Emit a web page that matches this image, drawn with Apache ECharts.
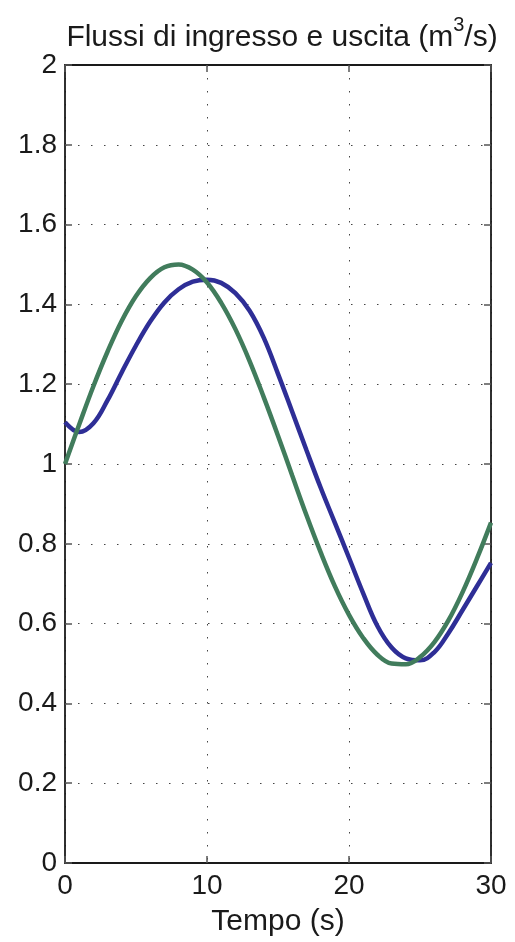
<!DOCTYPE html>
<html>
<head>
<meta charset="utf-8">
<script src="https://cdn.jsdelivr.net/npm/echarts@6/dist/echarts.min.js"></script>
<style>
  html, body { margin: 0; padding: 0; background: #fff; }
  #chart { width: 515px; height: 942px; }
</style>
</head>
<body>
<div id="chart"></div>
<script>
// tempi (s) e valori
const tempo = [0, 1, 2, 3, 4, 5, 6, 7, 8, 9, 10, 11, 12, 13, 14, 15,
  16, 17, 18, 19, 20, 21, 22, 23, 24, 25, 26, 27, 28, 29, 30]
// portata di uscita (blu)
const uscita = [1.105, 1.080, 1.102, 1.160, 1.230, 1.297, 1.357, 1.405, 1.438, 1.457,
  1.462, 1.454, 1.428, 1.384, 1.316, 1.226, 1.131, 1.035, 0.941, 0.853, 0.765, 0.676,
  0.594, 0.540, 0.513, 0.508, 0.528, 0.576, 0.634, 0.693, 0.752]
// portata di ingresso (verde)
const ingresso = [1.000, 1.099, 1.195, 1.282, 1.359, 1.421, 1.466, 1.493, 1.500, 1.487,
  1.455, 1.404, 1.338, 1.258, 1.167, 1.071, 0.971, 0.872, 0.779, 0.694, 0.622, 0.564,
  0.522, 0.500, 0.498, 0.516, 0.553, 0.608, 0.679, 0.762, 0.853]
const xTicks = [0, 10, 20, 30]
const yTicks = [0, 0.2, 0.4, 0.6, 0.8, 1, 1.2, 1.4, 1.6, 1.8, 2]

const font = 'Liberation Sans, Arial, Helvetica, sans-serif'
const ink = '#1a1a1a'
const gridDots = { color: '#444', width: 1, type: [1.5, 11.5] }
const axisBlack = { color: ink, width: 1.8 }
const tickStyle = { color: '#555', width: 1.5 }
// tacche verso l'interno, come in MATLAB
const ticks = { show: true, inside: true, length: 7, lineStyle: tickStyle }

const chart = echarts.init(document.getElementById('chart'))

const option = {
  animation: false,
  backgroundColor: '#fff',
  title: {
    text: '{t|Flussi di ingresso e uscita (m}{s|3}{t|/s)}',
    left: 277,
    textAlign: 'center',
    top: 10,
    textStyle: {
      rich: {
        t: { fontFamily: font, fontSize: 30, fontWeight: 'normal', color: ink, verticalAlign: 'bottom', lineHeight: 38 },
        s: { fontFamily: font, fontSize: 20, fontWeight: 'normal', color: ink, verticalAlign: 'top', lineHeight: 38, padding: [0, 0, 16, 0] }
      }
    }
  },
  grid: { left: 65, right: 24, top: 65, bottom: 78, containLabel: false },
  xAxis: [
    {
      type: 'value', min: 0, max: 30, interval: 10,
      name: 'Tempo (s)', nameLocation: 'middle', nameGap: 44,
      nameTextStyle: { fontFamily: font, fontSize: 30, color: ink },
      axisLine: { show: true, onZero: false, lineStyle: axisBlack },
      axisTick: ticks,
      axisLabel: {
        fontFamily: font, fontSize: 28, color: ink, margin: 9,
        showMinLabel: true, showMaxLabel: true,
        formatter: v => xTicks.includes(v) ? String(v) : ''
      },
      splitLine: { show: true, lineStyle: gridDots }
    },
    {
      type: 'value', min: 0, max: 30, interval: 10, position: 'top',
      axisLine: { show: true, onZero: false, lineStyle: axisBlack },
      axisTick: ticks,
      axisLabel: { show: false },
      splitLine: { show: false }
    }
  ],
  yAxis: [
    {
      type: 'value', min: 0, max: 2, interval: 0.2,
      axisLine: { show: true, onZero: false, lineStyle: axisBlack },
      axisTick: ticks,
      axisLabel: {
        fontFamily: font, fontSize: 28, color: ink, margin: 8,
        formatter: v => {
          const t = yTicks.find(k => Math.abs(k - v) < 1e-6)
          return t === undefined ? '' : String(t)
        }
      },
      splitLine: { show: true, lineStyle: gridDots }
    },
    {
      type: 'value', min: 0, max: 2, interval: 0.2, position: 'right',
      axisLine: { show: true, onZero: false, lineStyle: axisBlack },
      axisTick: ticks,
      axisLabel: { show: false },
      splitLine: { show: false }
    }
  ],
  series: [
    {
      name: 'uscita', type: 'line', smooth: 0.4, showSymbol: false,
      data: tempo.map((t, i) => [t, uscita[i]]),
      lineStyle: { color: '#2e2e96', width: 4.5 },
      z: 3
    },
    {
      name: 'ingresso', type: 'line', smooth: 0.4, showSymbol: false,
      data: tempo.map((t, i) => [t, ingresso[i]]),
      lineStyle: { color: '#417c5c', width: 4.5 },
      z: 4
    }
  ]
}
chart.setOption(option)
</script>
</body>
</html>
